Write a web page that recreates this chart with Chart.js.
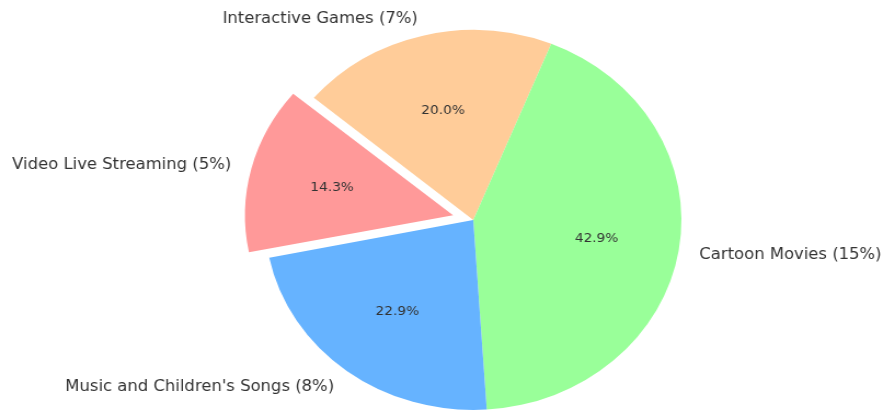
<!DOCTYPE html>
<html lang="en">

<head>
    <meta charset="UTF-8">
    <style>
        body {
            margin: 0;
            background: #ffffff;
            overflow: hidden;
        }

        /* the plot is drawn slightly narrower and then stretched to 883px */
        #wrap {
            width: 806px;
            height: 414px;
            transform: scaleX(1.0955);
            transform-origin: left top;
        }
    </style>
    <title>Pie</title>
</head>

<body>
    <div id="wrap">
        <canvas id="myChart" width="806" height="414"></canvas>
    </div>
    <script src="https://cdn.jsdelivr.net/npm/chart.js"></script>
    <script>
        // clockwise order, starting at the exploded slice
        const categories = ['Video Live Streaming (5%)', 'Interactive Games (7%)', 'Cartoon Movies (15%)', "Music and Children's Songs (8%)"];
        const shares = [5, 7, 15, 8];
        const colors = ['#ff9999', '#ffcc99', '#99ff99', '#66b3ff'];
        const explode = [0.1, 0, 0, 0];

        const RADIUS = 190;

        // ArcElement also grows an offset slice by offset/4 * (1 - sin(circumference)),
        // shrink it back so the pulled-out slice keeps the same radius
        const keepRadius = {
            id: 'keepRadius',
            afterDatasetUpdate(chart, args) {
                args.meta.data.forEach((arc, i) => {
                    const shift = explode[i] * RADIUS;
                    const fix = 1 - Math.sin(Math.min(Math.PI, arc.circumference));
                    arc.outerRadius = RADIUS - shift * fix;
                });
            }
        };

        // labels outside at 1.1 r, percentages inside at 0.6 r
        const pieLabels = {
            id: 'pieLabels',
            afterDatasetsDraw(chart) {
                const ctx = chart.ctx;
                const meta = chart.getDatasetMeta(0);
                const total = shares.reduce((a, b) => a + b, 0);
                ctx.save();
                ctx.fillStyle = '#333333';
                ctx.textBaseline = 'middle';
                meta.data.forEach((arc, i) => {
                    const mid = (arc.startAngle + arc.endAngle) / 2;
                    const r = RADIUS;
                    const off = explode[i] * r;
                    const cx = arc.x + Math.cos(mid) * off;
                    const cy = arc.y + Math.sin(mid) * off;

                    const lx = cx + Math.cos(mid) * r * 1.1;
                    const ly = cy + Math.sin(mid) * r * 1.1;
                    ctx.font = '15px "DejaVu Sans"';
                    ctx.textAlign = Math.cos(mid) > 0 ? 'left' : 'right';
                    ctx.fillText(categories[i], lx, ly + 1.5);

                    const px = cx + Math.cos(mid) * r * 0.6;
                    const py = cy + Math.sin(mid) * r * 0.6;
                    ctx.font = '12.5px "DejaVu Sans"';
                    ctx.textAlign = 'center';
                    ctx.fillText((shares[i] / total * 100).toFixed(1) + '%', px, py + 1);
                });
                ctx.restore();
            }
        };

        new Chart(document.getElementById('myChart'), {
            type: 'pie',
            data: {
                labels: categories,
                datasets: [{
                    data: shares,
                    backgroundColor: colors,
                    borderWidth: 0,
                    // ArcElement moves a slice by a quarter of its offset
                    offset: explode.map(e => e * RADIUS * 4),
                    hoverOffset: 0
                }]
            },
            options: {
                responsive: false,
                animation: false,
                devicePixelRatio: 1,
                events: [],
                rotation: -101.43,
                radius: RADIUS,
                layout: {
                    padding: { left: 58, right: 0, top: 26, bottom: 0 }
                },
                plugins: {
                    legend: { display: false },
                    tooltip: { enabled: false }
                }
            },
            plugins: [keepRadius, pieLabels]
        });
    </script>
</body>

</html>
